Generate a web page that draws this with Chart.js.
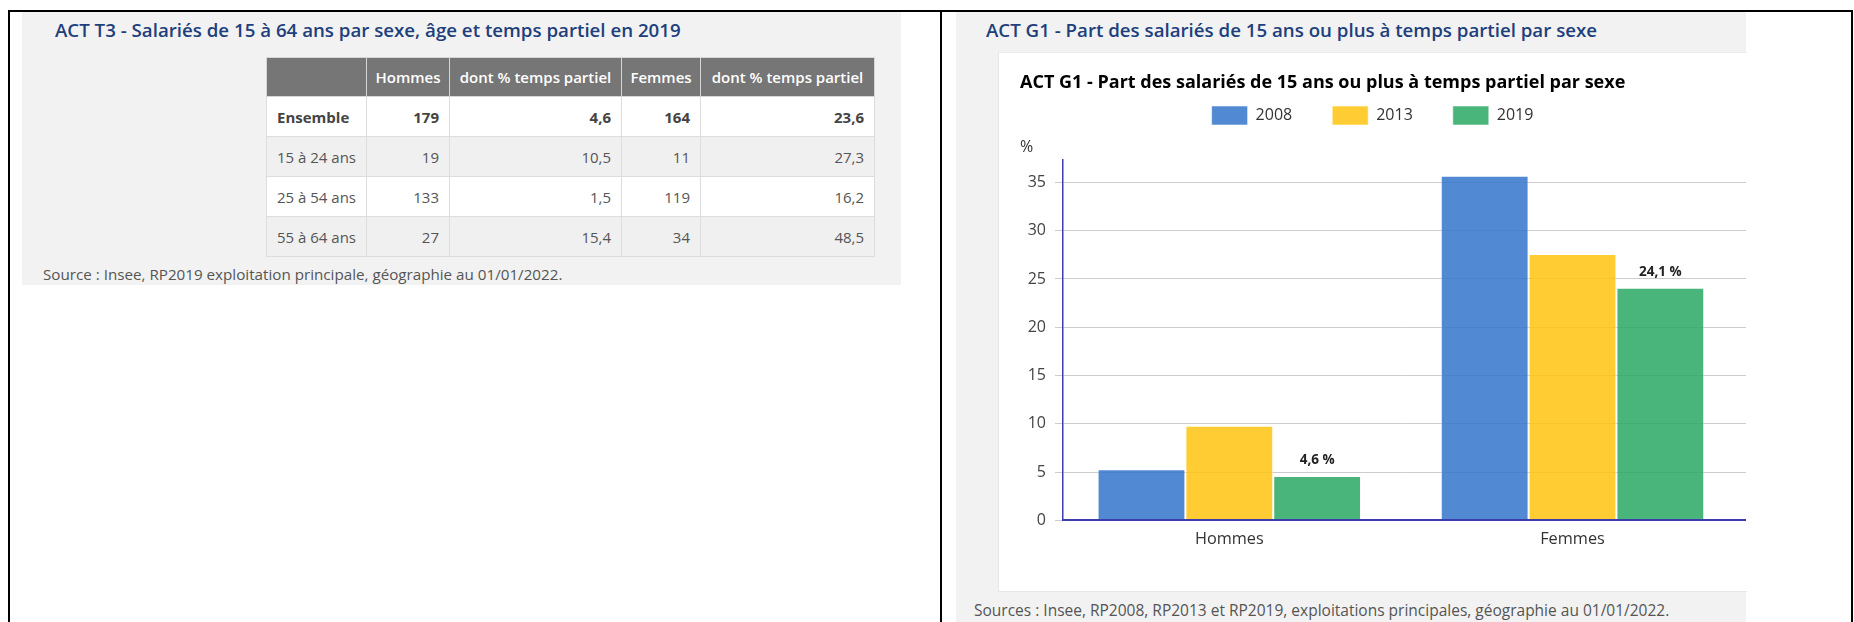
<!DOCTYPE html>
<html><head><meta charset="utf-8">
<script src="https://cdn.jsdelivr.net/npm/chart.js@4.4.1/dist/chart.umd.min.js"></script>
<style>
html,body{margin:0;padding:0;background:#fff;width:1854px;height:622px;overflow:hidden;font-family:"Open Sans",sans-serif;}
.abs{position:absolute;}
#frame{left:8px;top:10px;width:1845px;height:700px;border:2px solid #000;box-sizing:border-box;}
#mid{left:940px;top:10px;width:2px;height:700px;background:#000;}
#lpanel{left:22px;top:12px;width:879px;height:273px;background:#f2f2f2;}
#rpanel{left:956px;top:12px;width:790px;height:700px;background:#f2f2f2;}
.htitle{font-size:18.7px;font-weight:600;color:#203f7c;line-height:26px;white-space:nowrap;}
.src{color:#555;line-height:20px;white-space:nowrap;}
#whitebox{left:998px;top:52px;width:748px;height:538px;background:#fff;border-left:1px solid #e6e6e6;border-top:1px solid #ececec;border-bottom:1px solid #e6e6e6;}
#chartwrap{left:999px;top:53px;width:747px;height:538px;}
table{border-collapse:collapse;table-layout:fixed;width:608px;}
td,th{border:1px solid #dddddd;padding:0 10px;font-size:15px;color:#555;white-space:nowrap;box-sizing:border-box;}
th{background:#767676;color:#fff;font-weight:600;text-align:center;border-color:#d6d6d6;padding:0 4px;}
td{text-align:right;}
td.lab{text-align:left;}
tr.head{height:39px;}
tr.row{height:40px;}
tr.g td{background:#f0f0f0;}
tr.w td{background:#fff;}
tr.bold td{font-weight:700;color:#444;}
</style>
</head>
<body>
<div id="frame" class="abs"></div>
<div id="mid" class="abs"></div>
<div id="lpanel" class="abs"></div>
<div id="rpanel" class="abs"></div>

<div class="abs htitle" style="left:55px;top:17px;">ACT T3 - Salariés de 15 à 64 ans par sexe, âge et temps partiel en 2019</div>
<div class="abs" style="left:266px;top:57px;">
<table id="tbl">
<colgroup><col style="width:100px"><col style="width:83px"><col style="width:172px"><col style="width:79px"><col style="width:174px"></colgroup>
<thead></thead><tbody></tbody>
</table>
</div>
<div class="abs src" style="left:43px;top:264px;font-size:15.2px;">Source : Insee, RP2019 exploitation principale, géographie au 01/01/2022.</div>

<div class="abs htitle" style="left:986px;top:17px;">ACT G1 - Part des salariés de 15 ans ou plus à temps partiel par sexe</div>
<div id="whitebox" class="abs"></div>
<div id="chartwrap" class="abs"><canvas id="c" width="747" height="538" style="width:747px;height:538px;display:block;"></canvas></div>
<div class="abs src" style="left:974px;top:600px;font-size:15.5px;">Sources : Insee, RP2008, RP2013 et RP2019, exploitations principales, géographie au 01/01/2022.</div>

<script>
// ---- Table data ----
const tableHeaders = ['', 'Hommes', 'dont % temps partiel', 'Femmes', 'dont % temps partiel'];
const tableRowLabels = ['Ensemble', '15 à 24 ans', '25 à 54 ans', '55 à 64 ans'];
const tableHommes = ['179', '19', '133', '27'];
const tableHommesTP = ['4,6', '10,5', '1,5', '15,4'];
const tableFemmes = ['164', '11', '119', '34'];
const tableFemmesTP = ['23,6', '27,3', '16,2', '48,5'];

// ---- Chart data ----
const categories = ['Hommes', 'Femmes'];
const seriesYears = ['2008', '2013', '2019'];
const values2008 = [5.3, 35.7];
const values2013 = [9.8, 27.6];
const values2019 = [4.6, 24.1];
const yTickValues = [0, 5, 10, 15, 20, 25, 30, 35];
const chartTitle = 'ACT G1 - Part des salariés de 15 ans ou plus à temps partiel par sexe';
const yUnit = '%';

// build table
const thead = document.querySelector('#tbl thead');
const hr = document.createElement('tr'); hr.className = 'head';
tableHeaders.forEach(h => { const th = document.createElement('th'); th.textContent = h; hr.appendChild(th); });
thead.appendChild(hr);
const tbody = document.querySelector('#tbl tbody');
tableRowLabels.forEach((lab, i) => {
  const tr = document.createElement('tr');
  tr.className = 'row ' + (i % 2 === 0 ? 'w' : 'g') + (i === 0 ? ' bold' : '');
  [lab, tableHommes[i], tableHommesTP[i], tableFemmes[i], tableFemmesTP[i]].forEach((v, j) => {
    const td = document.createElement('td'); td.textContent = v; if (j === 0) td.className = 'lab'; tr.appendChild(td);
  });
  tbody.appendChild(tr);
});

Chart.defaults.font.family = '"Open Sans", sans-serif';
Chart.defaults.color = '#333';

const shiftPlugin = {
  id: 'shiftTitles',
  afterLayout(chart) {
    chart.boxes.forEach(b => {
      if (b.options && (b.options.text === chartTitle || b.options.text === yUnit) && b.left !== undefined && b.options.align === 'start') {
        b.left += 21; b.right += 21;
      }
    });
  }
};

const valueLabelPlugin = {
  id: 'valueLabels',
  afterDatasetsDraw(chart) {
    const ctx = chart.ctx;
    const meta = chart.getDatasetMeta(2);
    const data = chart.data.datasets[2].data;
    ctx.save();
    ctx.font = 'bold 13.5px "Open Sans", sans-serif';
    ctx.fillStyle = '#222';
    ctx.textAlign = 'center';
    ctx.textBaseline = 'middle';
    meta.data.forEach((el, i) => {
      ctx.fillText(String(data[i].y).replace('.', ',') + ' %', el.x, el.y - 16);
    });
    ctx.restore();
  }
};

const colors = ['rgba(50,116,203,0.85)', 'rgba(255,196,15,0.85)', 'rgba(41,168,99,0.85)'];
const seriesValues = [values2008, values2013, values2019];

new Chart(document.getElementById('c'), {
  type: 'bar',
  data: {
    datasets: seriesYears.map((y, i) => ({
      label: y,
      data: seriesValues[i].map((v, k) => ({ x: k, y: v })),
      backgroundColor: colors[i],
      borderColor: 'rgba(255,255,255,0.55)',
      borderWidth: 1,
      categoryPercentage: 0.7677,
      barPercentage: 1.0
    }))
  },
  options: {
    responsive: false,
    animation: false,
    devicePixelRatio: 1,
    layout: { padding: { left: 0, right: 0, top: 0, bottom: 33 } },
    plugins: {
      title: {
        display: true, text: chartTitle, align: 'start', color: '#000',
        font: { size: 18, weight: 'bold', lineHeight: 1.2 },
        padding: { top: 19.5, bottom: -28.1 }
      },
      subtitle: {
        display: true, text: yUnit, align: 'start', position: 'top', weight: 500, color: '#333',
        font: { size: 16, weight: 'normal', lineHeight: 1.2 },
        padding: { top: 3, bottom: 3 }
      },
      legend: {
        display: true, position: 'top', align: 'center',
        labels: { boxWidth: 36, boxHeight: 19, padding: 40, color: '#333', font: { size: 16 } }
      },
      tooltip: { enabled: false }
    },
    scales: {
      x: {
        type: 'linear',
        offset: false,
        min: -0.4846, max: 1.5055,
        afterBuildTicks: s => { s.ticks = categories.map((c, k) => ({ value: k })); },
        grid: { display: false, drawTicks: false },
        border: { display: true, color: '#3c3cab', width: 2, z: 1 },
        ticks: { padding: 9, color: '#333', font: { size: 16.3 }, callback: v => categories[v] }
      },
      y: {
        min: 0, max: 37.3,
        afterBuildTicks: s => { s.ticks = yTickValues.map(v => ({ value: v })); },
        afterFit: s => { s.width = 64; },
        ticks: { padding: 9, color: '#444', font: { size: 16 } },
        grid: { color: '#cccccc', lineWidth: 1, drawTicks: true, tickLength: 8 },
        border: { display: true, color: '#3c3cab', width: 1.5 }
      }
    }
  },
  plugins: [shiftPlugin, valueLabelPlugin]
});
</script>
</body></html>
